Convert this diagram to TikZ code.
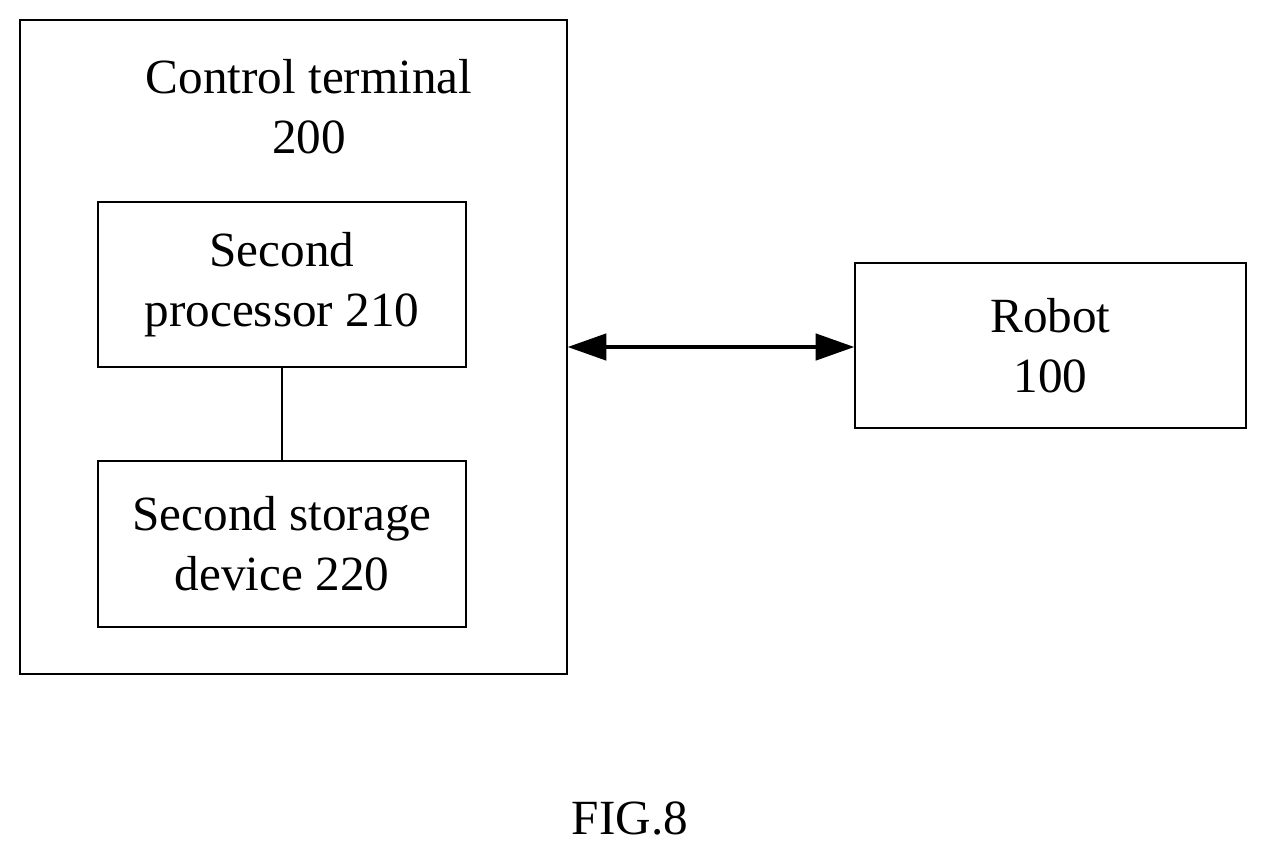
\documentclass[tikz,border=0pt]{standalone}
\usepackage{fontspec}
\setmainfont{Liberation Serif}
\usetikzlibrary{arrows.meta}
\begin{document}
\begin{tikzpicture}[x=0.02cm,y=-0.02cm,
  box/.style={draw,line width=0.8pt,inner sep=0pt},
  txt/.style={font=\fontsize{28}{34}\selectfont,align=center}]
\useasboundingbox (0,0) rectangle (1267,856);
\node[box,minimum width=547*0.02cm,minimum height=654*0.02cm] (ct) at (293.5,347) {};
\node[txt] at (309,107) {Control terminal\\200};
\node[box,minimum width=368*0.02cm,minimum height=165*0.02cm,txt] (p) at (282,284.5) {Second\\processor 210};
\node[box,minimum width=368*0.02cm,minimum height=166*0.02cm,txt] (s) at (282,544) {Second storage\\device 220};
\node[box,minimum width=391*0.02cm,minimum height=165*0.02cm,txt] (r) at (1050.5,345.5) {Robot\\100};
\draw[line width=1.2pt] (p.south) -- (s.north);
\draw[line width=2pt,{Triangle[length=22pt,width=15pt]}-{Triangle[length=22pt,width=15pt]}] (ct.east |- 0,347) -- (r.west |- 0,347);
\node[txt] (fig) at (630,818) {FIG.8};
\end{tikzpicture}
\end{document}
